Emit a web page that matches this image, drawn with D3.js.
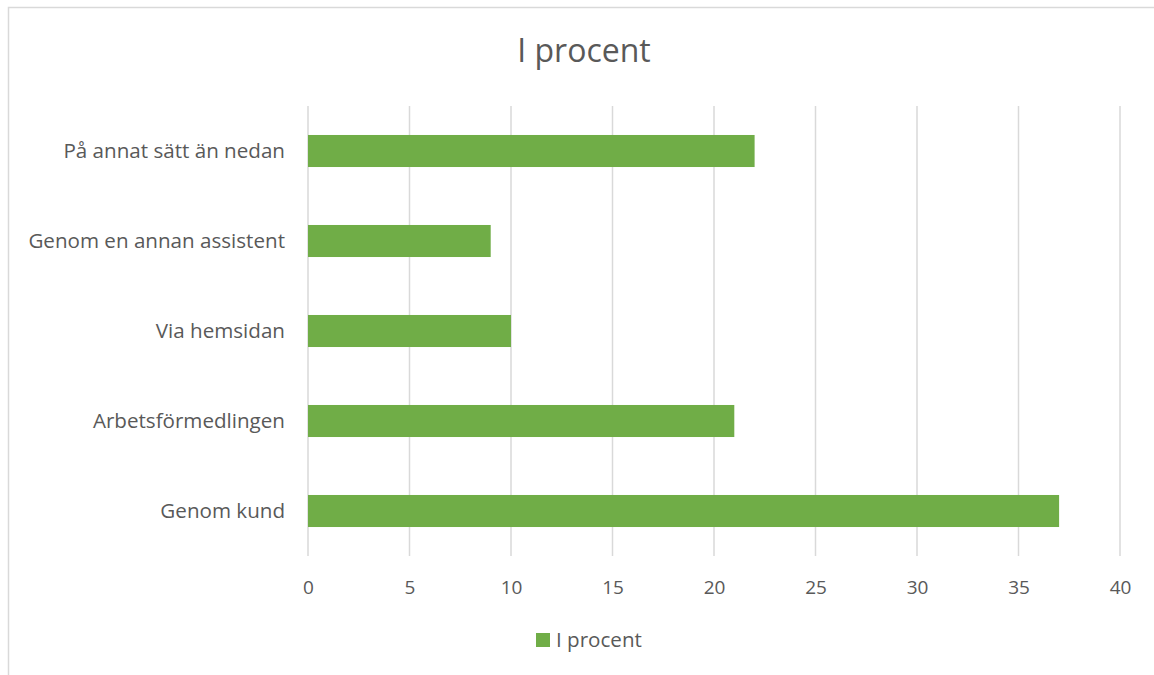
<!DOCTYPE html>
<html>
<head>
<meta charset="utf-8">
<script src="https://cdn.jsdelivr.net/npm/d3@7"></script>
<style>
  body { margin: 0; background: #fff; }
  text { font-family: "Open Sans", sans-serif; fill: #595959; }
</style>
</head>
<body>
<div class="chart"></div>
<script>
const categories = ['På annat sätt än nedan', 'Genom en annan assistent', 'Via hemsidan', 'Arbetsförmedlingen', 'Genom kund'];
const values = [22, 9, 10, 21, 37];
const xTicks = [0, 5, 10, 15, 20, 25, 30, 35, 40];
const seriesName = 'I procent';

const W = 1154, H = 675;
const margin = ({top: 106, right: 34, bottom: 119, left: 308});
const width = W - margin.left - margin.right;
const height = H - margin.top - margin.bottom;

const root = d3.select('.chart').append('svg')
  .attr('width', W)
  .attr('height', H);

// chart border
root.append('rect')
  .attr('x', 8.5).attr('y', 7.5)
  .attr('width', W).attr('height', H)
  .attr('fill', 'none')
  .attr('stroke', '#d9d9d9')
  .attr('stroke-width', 1.5);

root.append('text')
  .attr('x', 584).attr('y', 62)
  .attr('text-anchor', 'middle')
  .style('font-size', '32px')
  .text(seriesName);

const svg = root.append('g')
  .attr('transform', `translate(${margin.left},${margin.top})`);

const xScale = d3.scaleLinear().domain([0, 40]).range([0, width]);
const yScale = d3.scaleBand().domain(categories).range([0, height])
  .paddingInner(0.644).paddingOuter(0.322);

// gridlines
svg.selectAll('.grid')
  .data(xTicks)
  .enter()
  .append('line')
    .attr('x1', d => xScale(d)).attr('x2', d => xScale(d))
    .attr('y1', 0).attr('y2', height)
    .attr('stroke', '#d9d9d9')
    .attr('stroke-width', 1.5);

svg.selectAll('.bar')
  .data(values)
  .enter()
  .append('rect')
    .attr('x', xScale(0))
    .attr('y', (d, i) => yScale(categories[i]))
    .attr('width', d => xScale(d) - xScale(0))
    .attr('height', yScale.bandwidth())
    .attr('fill', '#70ad47');

const xAxis = d3.axisBottom(xScale).tickValues(xTicks).tickSize(0).tickPadding(25);
svg.append('g')
  .attr('transform', `translate(0, ${height})`)
  .call(xAxis)
  .call(g => g.select('.domain').remove())
  .call(g => g.selectAll('text').style('font-size', '19px').attr('fill', '#595959'));

const yAxis = d3.axisLeft(yScale).tickSize(0).tickPadding(23);
svg.append('g')
  .call(yAxis)
  .call(g => g.select('.domain').remove())
  .call(g => g.selectAll('text').style('font-size', '20.6px').attr('fill', '#595959'));

// legend
const legend = root.append('g').attr('transform', 'translate(536, 633)');
legend.append('rect')
  .attr('width', 14).attr('height', 14)
  .attr('fill', '#70ad47');
legend.append('text')
  .attr('x', 20).attr('y', 14)
  .style('font-size', '20.6px')
  .text(seriesName);
</script>
</body>
</html>
